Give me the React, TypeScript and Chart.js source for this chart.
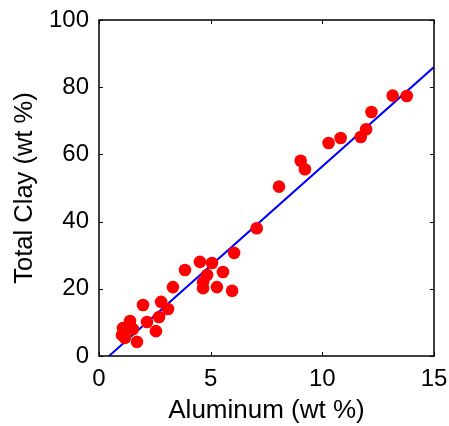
import React, { useEffect, useRef } from "react";
import { Chart, registerables } from "chart.js";

Chart.register(...registerables);

const aluminum = [
  6.05, 4.52, 5.06, 3.85, 5.55, 4.84, 4.66, 4.66, 5.28, 5.96,
  3.31, 1.97, 2.78, 3.09, 2.69, 2.15, 1.39, 2.55, 1.52, 1.07,
  1.03, 1.16, 1.70, 7.06, 8.06, 9.03, 9.22, 10.28, 10.82, 11.72,
  11.96, 12.2, 13.15, 13.78,
];
const totalClay = [
  30.7, 28.0, 27.7, 25.6, 25.0, 24.1, 22.0, 20.2, 20.5, 19.4,
  20.5, 15.2, 16.1, 14.0, 11.6, 10.1, 10.4, 7.4, 8.0, 8.3,
  6.2, 5.4, 4.2, 38.0, 50.4, 58.1, 55.6, 63.4, 64.9, 65.2,
  67.5, 72.6, 77.5, 77.4,
];
const fitX = [0.45, 15];
const fitY = [0, 86.0];
const xTicks = [0, 5, 10, 15];
const yTicks = [0, 20, 40, 60, 80, 100];

const FONT = "'Liberation Sans', Arial, sans-serif";

const framePlugin = {
  id: "matlabFrame",
  afterDatasetsDraw(chart: any) {
    const { ctx, chartArea, scales } = chart;
    const { left, right, top, bottom } = chartArea;
    const tl = 4;
    ctx.save();
    ctx.strokeStyle = "#000";
    ctx.lineWidth = 1;
    ctx.beginPath();
    for (const v of xTicks) {
      const px = Math.round(scales.x.getPixelForValue(v)) + 0.5;
      ctx.moveTo(px, bottom);
      ctx.lineTo(px, bottom - tl);
      ctx.moveTo(px, top);
      ctx.lineTo(px, top + tl);
    }
    for (const v of yTicks) {
      const py = Math.round(scales.y.getPixelForValue(v)) + 0.5;
      ctx.moveTo(left, py);
      ctx.lineTo(left + tl, py);
      ctx.moveTo(right, py);
      ctx.lineTo(right - tl, py);
    }
    ctx.stroke();
    ctx.lineWidth = 1.5;
    ctx.strokeRect(left, top, right - left, bottom - top);
    ctx.restore();
  },
};

export default function App() {
  const ref = useRef<HTMLCanvasElement>(null);
  useEffect(() => {
    if (!ref.current) return;
    const chart = new Chart(ref.current, {
      type: "scatter",
      data: {
        datasets: [
          {
            type: "scatter",
            label: "Samples",
            data: aluminum.map((x, i) => ({ x, y: totalClay[i] })),
            backgroundColor: "#ff0000",
            borderWidth: 0,
            pointRadius: 6.3,
            order: 1,
          },
          {
            type: "line",
            label: "Fit",
            data: fitX.map((x, i) => ({ x, y: fitY[i] })),
            borderColor: "#0000ff",
            borderWidth: 2,
            pointRadius: 0,
            fill: false,
            order: 2,
          } as any,
        ],
      },
      options: {
        animation: false,
        responsive: false,
        maintainAspectRatio: false,
        layout: { padding: { top: 20, right: 15, left: 0, bottom: 0 } },
        plugins: { legend: { display: false }, tooltip: { enabled: false } },
        scales: {
          x: {
            type: "linear",
            min: 0,
            max: 15,
            afterBuildTicks: (s: any) => {
              s.ticks = xTicks.map((v) => ({ value: v }));
            },
            afterFit: (s: any) => {
              s.height = 70;
              s.paddingLeft = 0;
              s.paddingRight = 0;
            },
            grid: { display: false, drawTicks: false },
            border: { display: false },
            ticks: {
              color: "#000",
              padding: 9,
              font: { family: FONT, size: 24 },
              maxRotation: 0,
            },
            title: {
              display: true,
              text: "Aluminum (wt %)",
              color: "#000",
              font: { family: FONT, size: 26 },
              padding: { top: 0, bottom: 0 },
            },
          },
          y: {
            type: "linear",
            min: 0,
            max: 100,
            afterBuildTicks: (s: any) => {
              s.ticks = yTicks.map((v) => ({ value: v }));
            },
            afterFit: (s: any) => {
              s.width = 99;
              s.paddingTop = 0;
              s.paddingBottom = 0;
            },
            grid: { display: false, drawTicks: false },
            border: { display: false },
            ticks: {
              color: "#000",
              padding: 10,
              font: { family: FONT, size: 24 },
            },
            title: {
              display: true,
              text: "Total Clay (wt %)",
              color: "#000",
              font: { family: FONT, size: 25.5 },
              padding: { top: 10, bottom: 0 },
            },
          },
        },
      },
      plugins: [framePlugin],
    });
    return () => chart.destroy();
  }, []);
  return (
    <div style={{ position: "absolute", left: 0, top: 0, width: 449, height: 426, background: "#fff" }}>
      <canvas ref={ref} width={449} height={426} style={{ display: "block" }} />
    </div>
  );
}
